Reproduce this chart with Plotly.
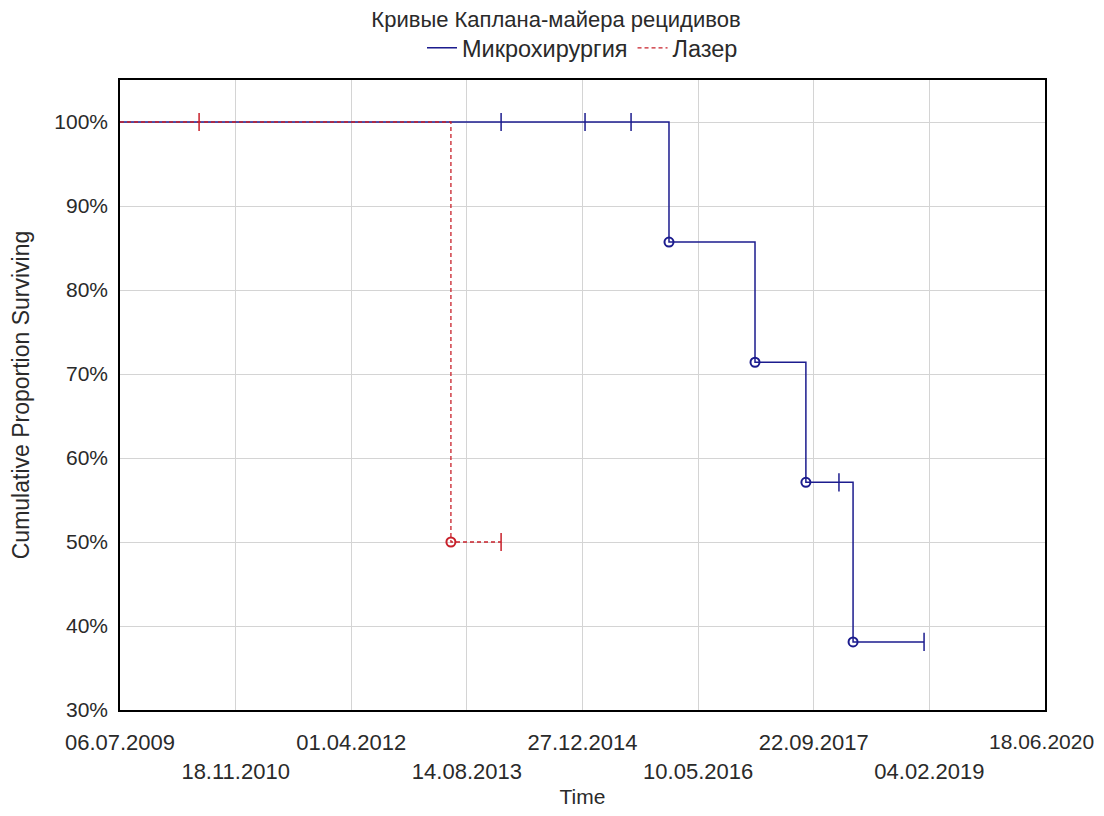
import plotly.graph_objects as go

# ---- data ----
start_date = "2009-07-06"
micro_event_dates = ["2016-01-05", "2017-01-11", "2017-08-19", "2018-03-11"]
micro_event_values = [85.7, 71.4, 57.1, 38.1]
micro_censor_dates = ["2014-01-09", "2015-01-07", "2015-07-25", "2018-01-09", "2019-01-12"]
micro_censor_values = [100, 100, 100, 57.1, 38.1]
micro_end_date = "2019-01-12"

laser_event_dates = ["2013-06-06"]
laser_event_values = [50]
laser_censor_dates = ["2010-06-13", "2014-01-09"]
laser_censor_values = [100, 50]
laser_end_date = "2014-01-09"

tick_dates = ["2009-07-06", "2010-11-18", "2012-04-01", "2013-08-14", "2014-12-27",
              "2016-05-10", "2017-09-22", "2019-02-04", "2020-06-18"]
tick_labels = ["06.07.2009", "18.11.2010", "01.04.2012", "14.08.2013", "27.12.2014",
               "10.05.2016", "22.09.2017", "04.02.2019", "18.06.2020"]
y_ticks = [30, 40, 50, 60, 70, 80, 90, 100]

BLUE = "#1c1c8e"
RED = "#c8202a"
TXT = "#2a2a2a"

# page has an 8px body margin, so the figure is sized to fit the window
W, H = 1096, 800

fig = go.Figure()

mx = [start_date] + micro_event_dates + [micro_end_date]
my = [100] + micro_event_values + [micro_event_values[-1]]
fig.add_trace(go.Scatter(x=mx, y=my, mode="lines", line=dict(color=BLUE, width=1.5, shape="hv"),
                         name="Микрохирургия"))
lx = [start_date] + laser_event_dates + [laser_end_date]
ly = [100] + laser_event_values + [laser_event_values[-1]]
fig.add_trace(go.Scatter(x=lx, y=ly, mode="lines",
                         line=dict(color=RED, width=1.3, shape="hv", dash="4px,3px"),
                         name="Лазер"))

fig.add_trace(go.Scatter(x=micro_event_dates, y=micro_event_values, mode="markers",
                         marker=dict(symbol="circle-open", size=9, color=BLUE, line=dict(width=2)),
                         showlegend=False))
fig.add_trace(go.Scatter(x=laser_event_dates, y=laser_event_values, mode="markers",
                         marker=dict(symbol="circle-open", size=9, color=RED, line=dict(width=2)),
                         showlegend=False))
fig.add_trace(go.Scatter(x=micro_censor_dates, y=micro_censor_values, mode="markers",
                         marker=dict(symbol="line-ns", size=13, color=BLUE, line=dict(width=1.5, color=BLUE)),
                         showlegend=False))
fig.add_trace(go.Scatter(x=laser_censor_dates, y=laser_censor_values, mode="markers",
                         marker=dict(symbol="line-ns", size=13, color=RED, line=dict(width=1.5, color=RED)),
                         showlegend=False))

ticktext = [t if i % 2 == 0 else "<br>" + t for i, t in enumerate(tick_labels)]
# the last label sits at the window edge: draw it as an annotation so it is not hidden
last_label = ticktext[-1]
ticktext[-1] = ""

fig.add_annotation(x=tick_dates[-1], xref="x", y=0, yref="paper", yanchor="middle",
                   yshift=-31, xshift=-4, text=last_label, showarrow=False,
                   font=dict(size=21, color=TXT))

fig.update_layout(
    width=W, height=H,
    margin=dict(l=112, r=59, t=72, b=98, autoexpand=False),
    paper_bgcolor="white", plot_bgcolor="white",
    font=dict(family="Liberation Sans, Arial, sans-serif", size=22, color=TXT),
    title=dict(text="Кривые Каплана-майера рецидивов", x=0.5, xanchor="center",
               y=1 - 11 / H, yanchor="middle", yref="container",
               font=dict(size=22, color=TXT)),
    legend=dict(orientation="h", x=0.5, xanchor="center", y=1 + 32 / 630, yanchor="middle",
                font=dict(size=23.5), itemwidth=30, bgcolor="rgba(0,0,0,0)"),
    showlegend=True,
)
fig.update_xaxes(
    type="date", range=["2009-07-06", "2020-06-18"], automargin=False,
    tickmode="array", tickvals=tick_dates, ticktext=ticktext,
    showgrid=True, gridcolor="#d4d4d4", gridwidth=1,
    showline=True, linecolor="black", linewidth=1.5, mirror=True,
    ticks="", zeroline=False, tickfont=dict(size=22), ticklabelstandoff=12,
    title=dict(text="Time", standoff=20, font=dict(size=21)),
)
fig.update_yaxes(
    range=[30, 105], tickmode="array", tickvals=y_ticks, automargin=False,
    ticktext=[f"{v}%" for v in y_ticks],
    showgrid=True, gridcolor="#d4d4d4", gridwidth=1,
    showline=True, linecolor="black", linewidth=1.5, mirror=True,
    ticks="", zeroline=False, tickfont=dict(size=21), ticklabelstandoff=6,
    title=dict(text="Cumulative Proportion Surviving", standoff=19, font=dict(size=23)),
)

fig.write_html("out.html")
